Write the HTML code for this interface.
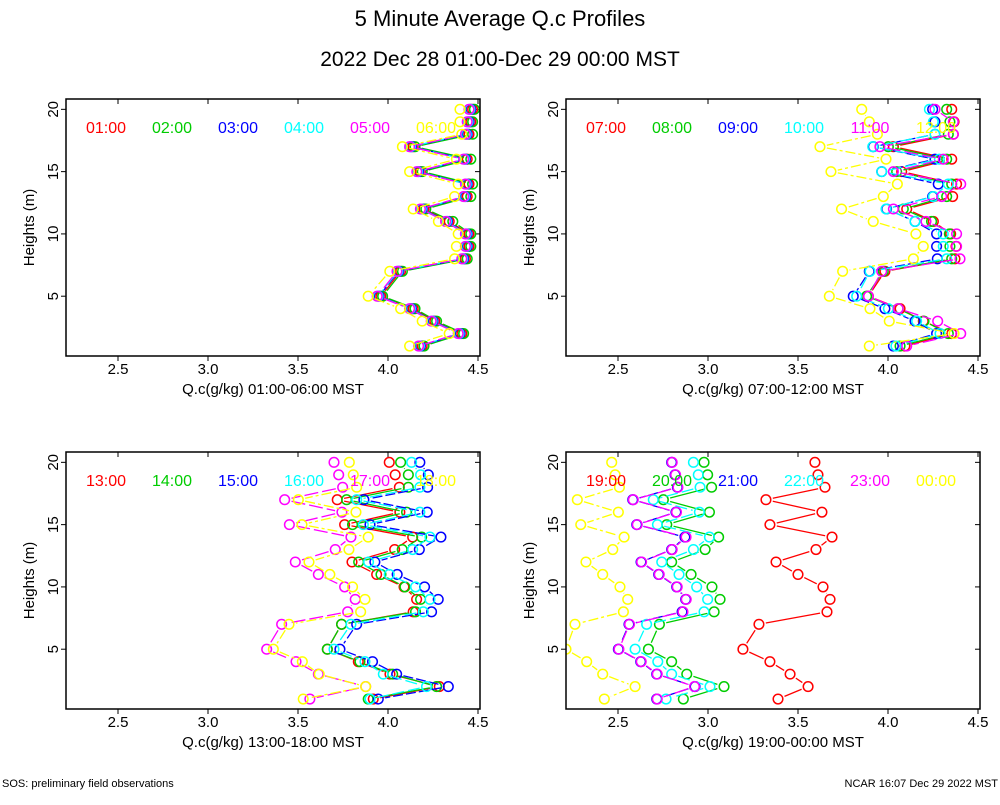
<!DOCTYPE html>
<html><head><meta charset="utf-8"><style>
body{margin:0;background:#fff;}
svg text{font-family:"Liberation Sans",sans-serif;}
</style></head><body>
<svg id="chart" width="1000" height="800" xmlns="http://www.w3.org/2000/svg">
<rect width="1000" height="800" fill="#fff"/>
<text x="500" y="26" font-size="22" text-anchor="middle">5 Minute Average Q.c Profiles</text>
<text x="500" y="66" font-size="21" text-anchor="middle">2022 Dec 28 01:00-Dec 29 00:00 MST</text>
<text x="2" y="787" font-size="11">SOS: preliminary field observations</text>
<text x="998" y="787" font-size="11" text-anchor="end">NCAR 16:07 Dec 29 2022 MST</text>
<g id="plots"></g>
</svg>
<script>
const heights = [20,19,18,17,16,15,14,13,12,11,10,9,8,7,5,4,3,2,1];
const xTicks = [2.5,3.0,3.5,4.0,4.5];
const xTickLabels = ["2.5","3.0","3.5","4.0","4.5"];
const yTicks = [5,10,15,20];
const colors = ["#ff0000","#00cc00","#0000ff","#00ffff","#ff00ff","#ffff00"];
const hoursP1 = ["01:00","02:00","03:00","04:00","05:00","06:00"];
const hoursP2 = ["07:00","08:00","09:00","10:00","11:00","12:00"];
const hoursP3 = ["13:00","14:00","15:00","16:00","17:00","18:00"];
const hoursP4 = ["19:00","20:00","21:00","22:00","23:00","00:00"];
const xLabels = ["Q.c(g/kg) 01:00-06:00 MST","Q.c(g/kg) 07:00-12:00 MST","Q.c(g/kg) 13:00-18:00 MST","Q.c(g/kg) 19:00-00:00 MST"];

// Panel 1 (01:00-06:00)
const p1Red     = [4.47,4.46,4.45,4.14,4.44,4.18,4.45,4.44,4.20,4.34,4.45,4.45,4.43,4.07,3.96,4.14,4.26,4.41,4.19];
const p1Green   = [4.48,4.47,4.47,4.15,4.46,4.19,4.47,4.46,4.21,4.36,4.46,4.46,4.44,4.08,3.97,4.15,4.27,4.42,4.20];
const p1Blue    = [4.46,4.45,4.44,4.13,4.43,4.17,4.44,4.43,4.19,4.33,4.44,4.44,4.42,4.06,3.95,4.13,4.25,4.40,4.18];
const p1Cyan    = [4.455,4.445,4.435,4.125,4.425,4.165,4.435,4.425,4.185,4.325,4.435,4.435,4.415,4.055,3.945,4.125,4.245,4.395,4.175];
const p1Magenta = [4.45,4.44,4.43,4.12,4.42,4.16,4.43,4.42,4.18,4.32,4.43,4.43,4.41,4.05,3.94,4.12,4.24,4.39,4.17];
const p1Yellow  = [4.40,4.40,4.41,4.08,4.38,4.12,4.39,4.37,4.14,4.28,4.39,4.38,4.37,4.01,3.89,4.07,4.19,4.34,4.12];
// Panel 2 (07:00-12:00)
const p2Red     = [4.354,4.367,4.363,4.030,4.354,4.076,4.381,4.359,4.104,4.252,4.348,4.378,4.372,3.983,3.891,4.067,4.196,4.354,4.094];
const p2Green   = [4.326,4.344,4.335,4.002,4.326,4.048,4.354,4.326,4.085,4.242,4.341,4.344,4.354,3.974,3.881,4.057,4.200,4.335,4.067];
const p2Blue    = [4.248,4.261,4.261,3.918,4.261,3.965,4.279,4.248,3.992,4.150,4.270,4.270,4.274,3.896,3.807,3.983,4.150,4.270,4.030];
const p2Cyan    = [4.230,4.252,4.261,3.915,4.285,3.965,4.335,4.252,3.989,4.150,4.307,4.307,4.326,3.900,3.826,4.002,4.159,4.289,4.044];
const p2Magenta = [4.261,4.363,4.363,3.955,4.307,4.030,4.404,4.298,4.030,4.211,4.381,4.381,4.400,3.965,3.891,4.057,4.276,4.404,4.104];
const p2Yellow  = [3.854,3.896,3.941,3.622,3.989,3.683,4.052,3.974,3.742,3.918,4.155,4.196,4.141,3.748,3.674,3.900,4.007,4.367,3.896];
// Panel 3 (13:00-18:00)
const p3Red     = [4.007,4.040,4.063,3.718,4.066,3.759,4.137,4.037,3.800,3.937,4.089,4.159,4.140,3.742,3.663,3.835,4.011,4.285,3.918];
const p3Green   = [4.070,4.113,4.113,3.770,4.103,3.803,4.187,4.079,3.837,3.961,4.094,4.181,4.153,3.742,3.663,3.844,4.026,4.270,3.890];
const p3Blue    = [4.177,4.224,4.220,3.866,4.218,3.900,4.294,4.174,3.927,4.051,4.203,4.279,4.242,3.826,3.733,3.914,4.048,4.335,3.946];
const p3Cyan    = [4.131,4.181,4.177,3.826,4.177,3.863,4.233,4.137,3.892,4.007,4.153,4.233,4.196,3.794,3.700,3.872,3.974,4.214,3.900];
const p3Magenta = [3.700,3.726,3.748,3.426,3.744,3.452,3.794,3.707,3.485,3.613,3.759,3.818,3.776,3.409,3.326,3.489,3.613,3.876,3.566];
const p3Yellow  = [3.785,3.807,3.826,3.502,3.822,3.522,3.890,3.783,3.561,3.677,3.803,3.872,3.848,3.450,3.363,3.524,3.618,3.876,3.529];
// Panel 4 (19:00-00:00)
const p4Red     = [3.594,3.611,3.650,3.322,3.633,3.344,3.689,3.600,3.378,3.500,3.639,3.678,3.661,3.283,3.194,3.344,3.456,3.556,3.389];
const p4Green   = [2.978,2.998,3.020,2.752,3.008,2.771,3.059,2.984,2.798,2.906,3.022,3.067,3.034,2.730,2.669,2.798,2.882,3.089,2.863];
const p4Blue    = [2.798,2.817,2.830,2.582,2.822,2.604,2.872,2.798,2.628,2.726,2.826,2.876,2.856,2.561,2.502,2.626,2.715,2.928,2.715];
const p4Cyan    = [2.919,2.946,2.956,2.696,2.952,2.719,3.008,2.919,2.743,2.839,2.937,2.998,2.978,2.659,2.595,2.721,2.798,3.011,2.767];
const p4Magenta = [2.801,2.820,2.833,2.585,2.825,2.607,2.878,2.801,2.631,2.729,2.829,2.879,2.861,2.564,2.505,2.629,2.718,2.925,2.718];
const p4Yellow  = [2.465,2.484,2.508,2.274,2.502,2.293,2.534,2.471,2.322,2.415,2.511,2.554,2.530,2.261,2.211,2.326,2.415,2.595,2.424];

const panelSeries = [
  [p1Red,p1Green,p1Blue,p1Cyan,p1Magenta,p1Yellow],
  [p2Red,p2Green,p2Blue,p2Cyan,p2Magenta,p2Yellow],
  [p3Red,p3Green,p3Blue,p3Cyan,p3Magenta,p3Yellow],
  [p4Red,p4Green,p4Blue,p4Cyan,p4Magenta,p4Yellow]
];
const panelHours = [hoursP1,hoursP2,hoursP3,hoursP4];

const NS = "http://www.w3.org/2000/svg";
const root = document.getElementById("plots");
const boxes = [[66,99],[566,99],[66,452],[566,452]];
const W = 414, H = 257;
const XMIN = 2.2111, XMAX = 4.5111, YMIN = 0.2, YMAX = 20.83;
const dashes = ["", "", "10,3", "12,4", "14,4", "10,3,3,3"];

function mk(tag, attrs, parent){
  const e = document.createElementNS(NS, tag);
  for (const k in attrs) e.setAttribute(k, attrs[k]);
  parent.appendChild(e);
  return e;
}

boxes.forEach((b, pi) => {
  const [x0, y0] = b;
  const sx = v => x0 + (v - XMIN) / (XMAX - XMIN) * W;
  const sy = v => y0 + H - (v - YMIN) / (YMAX - YMIN) * H;
  const g = mk("g", {}, root);
  
  
  const clipId = "clip" + pi;
  const cp = mk("clipPath", {id: clipId}, g);
  mk("rect", {x: x0, y: y0, width: W, height: H}, cp);

  xTicks.forEach((t, i) => {
    const x = sx(t);
    mk("line", {x1: x, x2: x, y1: y0 + H, y2: y0 + H + 5, stroke: "#000", "stroke-width": 1}, g);
    mk("line", {x1: x, x2: x, y1: y0, y2: y0 + 5, stroke: "#000", "stroke-width": 1}, g);
    const tl = mk("text", {x: x, y: y0 + H + 18, "font-size": 15, "text-anchor": "middle"}, g);
    tl.textContent = xTickLabels[i];
    
    
  });
  yTicks.forEach(t => {
    const y = sy(t);
    mk("line", {x1: x0 - 5, x2: x0, y1: y, y2: y, stroke: "#000", "stroke-width": 1}, g);
    mk("line", {x1: x0 + W - 5, x2: x0 + W, y1: y, y2: y, stroke: "#000", "stroke-width": 1}, g);
    const tl = mk("text", {x: x0 - 8, y: y, "font-size": 15, "text-anchor": "middle", transform: `rotate(-90 ${x0 - 8} ${y})`}, g);
    tl.textContent = String(t);
    
    
  });
  const yl = mk("text", {x: x0 - 32, y: y0 + H / 2, "font-size": 15, "text-anchor": "middle", transform: `rotate(-90 ${x0 - 32} ${y0 + H / 2})`}, g);
  yl.textContent = "Heights (m)";
  
  
  const xl = mk("text", {x: x0 + W / 2, y: y0 + H + 38, "font-size": 15, "text-anchor": "middle"}, g);
  xl.textContent = xLabels[pi];
  
  

  const dg = mk("g", {"clip-path": `url(#${clipId})`}, g);
  panelSeries[pi].forEach((vals, si) => {
    const sg = mk("g", {}, dg);
    
    
    const pts = vals.map((v, k) => [sx(v), sy(heights[k])]);
    for (let k = 0; k < pts.length - 1; k++) {
      const [ax, ay] = pts[k], [bx, by] = pts[k + 1];
      const d = Math.hypot(bx - ax, by - ay);
      const gap = 7;
      if (d <= 2 * gap) continue;
      const ux = (bx - ax) / d, uy = (by - ay) / d;
      const ln = mk("line", {x1: ax + ux * gap, y1: ay + uy * gap, x2: bx - ux * gap, y2: by - uy * gap,
        stroke: colors[si], "stroke-width": 1.3, "stroke-dasharray": dashes[si]}, sg);
      
      
    }
    pts.forEach(p => {
      const c = mk("circle", {cx: p[0], cy: p[1], r: 4.8, fill: "none", stroke: colors[si], "stroke-width": 1.5}, sg);
      
      
    });
  });

  panelHours[pi].forEach((h, si) => {
    const t = mk("text", {x: x0 + 40 + si * 66, y: y0 + 34, "font-size": 16, "text-anchor": "middle", fill: colors[si]}, g);
    t.textContent = h;
    
    
  });

  const fr = mk("rect", {x: x0, y: y0, width: W, height: H, fill: "none", stroke: "#000", "stroke-width": 1.5}, g);
  
  
});
</script>
</body></html>
